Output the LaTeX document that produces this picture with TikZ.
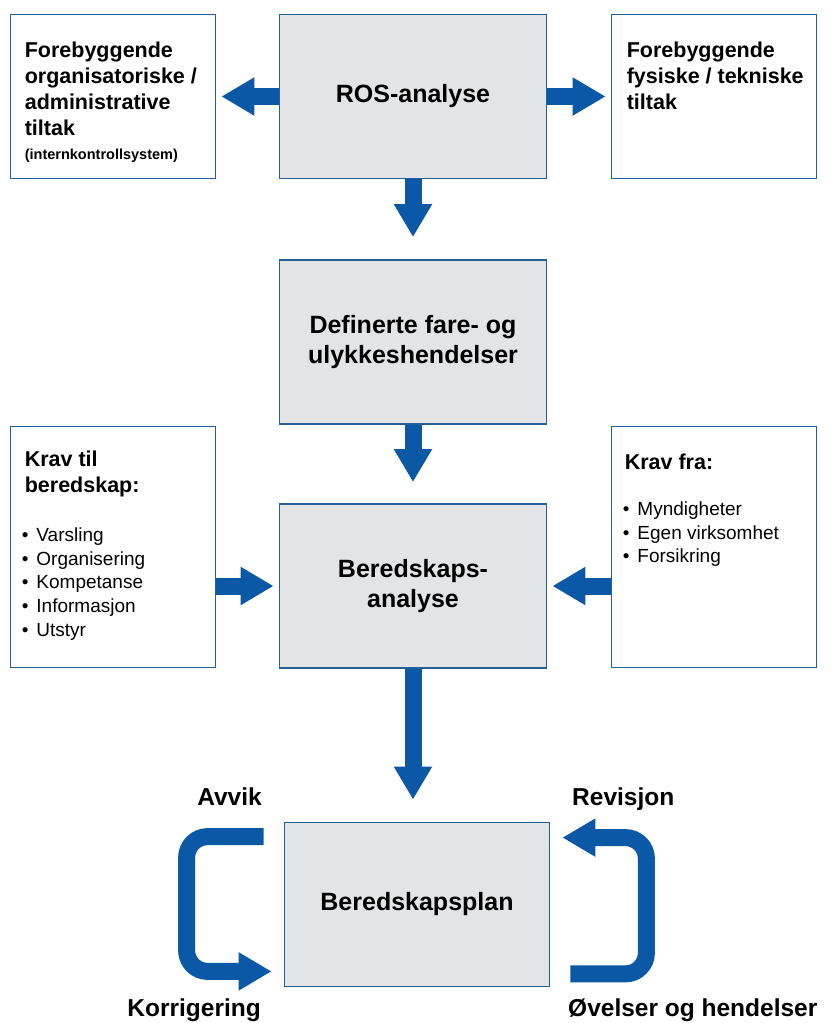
\documentclass[tikz,border=0pt]{standalone}
\usepackage{fontspec}
\setmainfont{Liberation Sans}
\usetikzlibrary{arrows.meta,calc}
\definecolor{arrowblue}{RGB}{10,88,166}
\definecolor{edgeblue}{RGB}{35,95,155}
\definecolor{boxgray}{RGB}{227,228,230}
\newcommand{\bul}{•\hspace{8pt}}
\begin{document}
\begin{tikzpicture}[x=1pt,y=-1pt,
  mainbox/.style={draw=edgeblue, line width=1.8pt, fill=boxgray, minimum width=267pt, minimum height=164pt, inner sep=0pt, font=\fontsize{25}{30}\selectfont\bfseries, align=center},
  sidebox/.style={draw=edgeblue, line width=1.8pt, fill=white, minimum width=205pt, minimum height=164pt, inner sep=0pt},
  boxtitle/.style={anchor=north west, inner sep=0pt, align=left, font=\fontsize{21.5}{26}\selectfont\bfseries},
  bullets/.style={anchor=north west, inner sep=0pt, align=left, font=\fontsize{19}{23.7}\selectfont},
  looplabel/.style={inner sep=0pt, font=\fontsize{24.5}{28}\selectfont\bfseries},
  blockarrow/.style={draw=arrowblue, line width=17pt, -{Triangle[width=36pt,length=33pt]}}
]
\useasboundingbox (0,0) rectangle (833,1023);
\fill[white] (0,0) rectangle (833,1023);

% boxes
\node[mainbox] (ros) at (413,96.5) {ROS-analyse};
\node[sidebox] (prevorg) at (113,96.5) {};
\node[sidebox] (prevtech) at (714,96.5) {};
\node[mainbox] (def) at (413,342) {Definerte fare- og\\ulykkeshendelser};
\node[mainbox] (ber) at (413,586) {Beredskaps-\\analyse};
\node[sidebox, minimum height=241pt] (kravtil) at (113,547) {};
\node[sidebox, minimum height=241pt] (kravfra) at (714,547) {};
\node[mainbox, minimum width=265pt] (plan) at (417,904.5) {Beredskapsplan};

% box texts
\node[boxtitle] (prevorg-t) at ($(prevorg.north west)+(15,28.5)$) {Forebyggende\\organisatoriske /\\administrative\\tiltak};
\node[anchor=base west, inner sep=0pt, font=\fontsize{14.5}{17}\selectfont\bfseries] (prevorg-n) at ($(prevorg.north west)+(15,146)$) {(internkontrollsystem)};
\node[boxtitle] (prevtech-t) at ($(prevtech.north west)+(16,28.5)$) {Forebyggende\\fysiske / tekniske\\tiltak};
\node[boxtitle] (kravtil-t) at ($(kravtil.north west)+(15,25.6)$) {Krav til\\beredskap:};
\node[bullets] (kravtil-b) at ($(kravtil.north west)+(12,102)$) {\bul Varsling\\\bul Organisering\\\bul Kompetanse\\\bul Informasjon\\\bul Utstyr};
\node[boxtitle] (kravfra-t) at ($(kravfra.north west)+(14,28.5)$) {Krav fra:};
\node[bullets] (kravfra-b) at ($(kravfra.north west)+(12,76)$) {\bul Myndigheter\\\bul Egen virksomhet\\\bul Forsikring};

% arrows
\draw[blockarrow, shorten >=5pt] (ros.west) -- (prevorg.east);
\draw[blockarrow, shorten >=5pt] (ros.east) -- (prevtech.east -| prevtech.west);
\draw[blockarrow, shorten >=22pt] (ros.south) -- (def.north);
\draw[blockarrow, shorten >=21pt] (def.south) -- (ber.north);
\draw[blockarrow, shorten >=5pt] (kravtil.east |- ber.west) -- (ber.west);
\draw[blockarrow, shorten >=5pt] (kravfra.west |- ber.east) -- (ber.east);
\draw[blockarrow, shorten >=22pt] (ber.south) -- (ber.south |- plan.north);

% loops
\coordinate (la) at ($(plan.north west)+(-20,15)$);
\coordinate (lb) at ($(plan.south west)+(-12,-16)$);
\coordinate (lx) at ($(plan.west)+(-97,0)$);
\draw[blockarrow, rounded corners=21pt] (la) -- (la -| lx) -- (lb -| lx) -- (lb);
\coordinate (ra) at ($(plan.south east)+(20,-13.5)$);
\coordinate (rb) at ($(plan.north east)+(12,16)$);
\coordinate (rx) at ($(plan.east)+(96,0)$);
\draw[blockarrow, rounded corners=21pt] (ra) -- (ra -| rx) -- (rb -| rx) -- (rb);

% loop labels
\node[looplabel, anchor=base east] (avvik) at (262,805) {Avvik};
\node[looplabel, anchor=base west] (revisjon) at (572,805) {Revisjon};
\node[looplabel, anchor=base east] (korr) at (261,1016) {Korrigering};
\node[looplabel, anchor=base west] (ovelser) at (568,1016) {Øvelser og hendelser};
\end{tikzpicture}
\end{document}
